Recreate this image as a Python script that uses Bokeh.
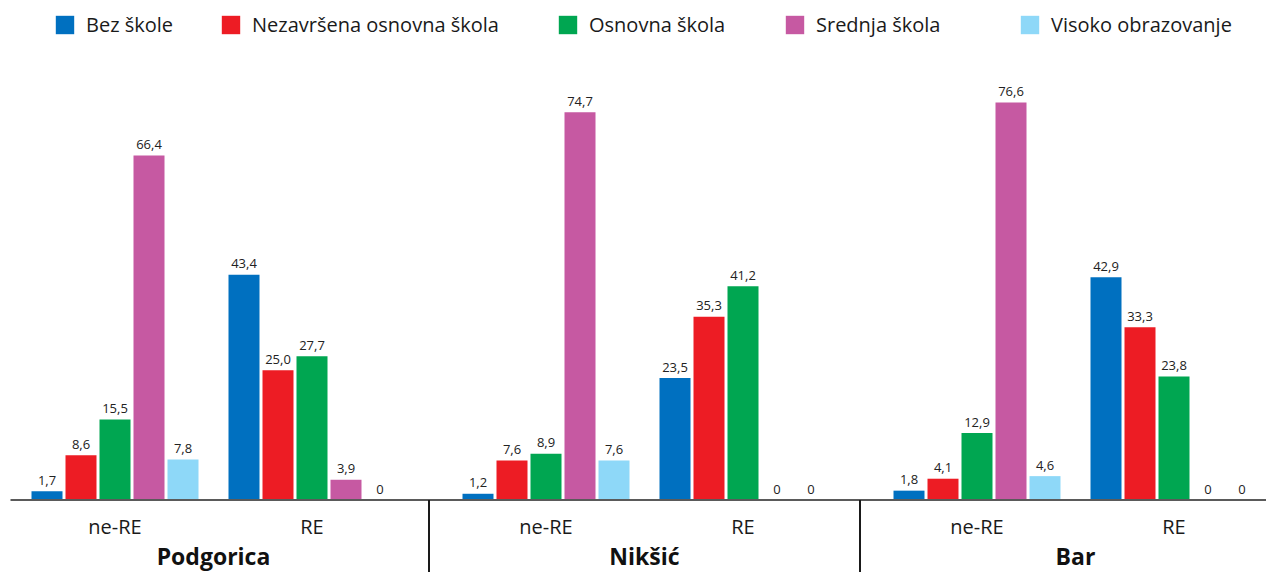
from bokeh.plotting import figure
from bokeh.models import Range1d, ColumnDataSource, Legend, LegendItem
from bokeh.core.properties import value
from bokeh.embed import file_html
from bokeh.resources import INLINE

# ---------------- data ----------------
cities = ["Podgorica", "Nikšić", "Bar"]
subgroups = ["ne-RE", "RE"]
series = ["Bez škole", "Nezavršena osnovna škola", "Osnovna škola",
          "Srednja škola", "Visoko obrazovanje"]
colors = ["#0070C0", "#ED1C24", "#00A651", "#C659A2", "#8ED8F8"]

# order: Podgorica ne-RE, Podgorica RE, Nikšić ne-RE, Nikšić RE, Bar ne-RE, Bar RE
bez_skole = [1.7, 43.4, 1.2, 23.5, 1.8, 42.9]
nezavrsena = [8.6, 25.0, 7.6, 35.3, 4.1, 33.3]
osnovna = [15.5, 27.7, 8.9, 41.2, 12.9, 23.8]
srednja = [66.4, 3.9, 74.7, 0.0, 76.6, 0.0]
visoko = [7.8, 0.0, 7.6, 0.0, 4.6, 0.0]
values = [bez_skole, nezavrsena, osnovna, srednja, visoko]

# ---------------- layout (pixels) ----------------
W, H = 1266, 572
PX_PER_UNIT = 5.19
BASELINE_FROM_TOP = 499.5
AXIS_LEFT = 10
FIRST_CENTER = 114.5
CITY_STEP = 431
GROUP_STEP = 197
BAR_STEP = 34
BAR_WIDTH = 31
LEGEND_X = [53, 219, 556, 783, 1018]
LEGEND_TOP = 15
SWATCH = 23
FONT = "Open Sans"


def px(v):
    return v / PX_PER_UNIT


def fmt(v):
    return "0" if v == 0 else f"{v:.1f}".replace(".", ",")


group_centers = []
group_labels = []
for ci, city in enumerate(cities):
    for si, sg in enumerate(subgroups):
        group_centers.append(FIRST_CENTER + ci * CITY_STEP + si * GROUP_STEP)
        group_labels.append(sg)
city_centers = [(group_centers[2 * i] + group_centers[2 * i + 1]) / 2 for i in range(len(cities))]
separators = [(group_centers[2 * i + 1] + group_centers[2 * i + 2]) / 2 for i in range(len(cities) - 1)]

y_top = px(BASELINE_FROM_TOP)
y_bottom = -px(H - BASELINE_FROM_TOP)

p = figure(width=W, height=H, output_backend="svg", toolbar_location=None,
           x_range=Range1d(0, W), y_range=Range1d(y_bottom, y_top),
           x_axis_location=None, y_axis_location=None,
           min_border=0, outline_line_color=None)
p.grid.visible = False
p.background_fill_color = "white"
p.border_fill_color = "white"

n_series = len(series)
bar_renderers = []
for k, (name, col, vals) in enumerate(zip(series, colors, values)):
    xs = [g + (k - (n_series - 1) / 2) * BAR_STEP for g in group_centers]
    src = ColumnDataSource(dict(x=xs, top=vals,
                                ly=[v + px(11) for v in vals],
                                label=[fmt(v) for v in vals]))
    r = p.vbar(x="x", top="top", bottom=0, width=BAR_WIDTH, source=src,
               fill_color=col, line_color=None)
    bar_renderers.append(r)
    p.text(x="x", y="ly", text="label", source=src,
           text_align="center", text_baseline="alphabetic",
           text_font=value(FONT), text_font_size="13px", text_color="#222222")

# axis line
p.segment(x0=[AXIS_LEFT], x1=[W], y0=[0], y1=[0], line_color="#5a5a5a", line_width=2)

# separators
p.segment(x0=separators, x1=separators, y0=[0] * len(separators),
          y1=[y_bottom] * len(separators), line_color="#1a1a1a", line_width=2)

# sub-group labels
p.text(x=group_centers, y=[-px(26)] * len(group_centers), text=group_labels,
       text_align="center", text_baseline="alphabetic",
       text_font=value(FONT), text_font_size="20px", text_color="#1a1a1a")

# city labels
p.text(x=city_centers, y=[-px(56)] * len(city_centers), text=cities,
       text_align="center", text_baseline="alphabetic",
       text_font=value(FONT), text_font_size="23px", text_font_style="bold",
       text_color="#111111")

# legend: one entry per series, placed like the reference
for name, r, lx in zip(series, bar_renderers, LEGEND_X):
    lg = Legend(items=[LegendItem(label=name, renderers=[r])],
                location=(lx, H - LEGEND_TOP - SWATCH),
                orientation="horizontal", padding=0, margin=0,
                glyph_width=SWATCH, glyph_height=SWATCH, label_height=SWATCH,
                label_standoff=10, label_text_font=FONT,
                label_text_font_size="20px", label_text_color="#1a1a1a",
                border_line_color=None, background_fill_alpha=0)
    p.add_layout(lg, "center")

open("out.html", "w").write(file_html(p, INLINE))
